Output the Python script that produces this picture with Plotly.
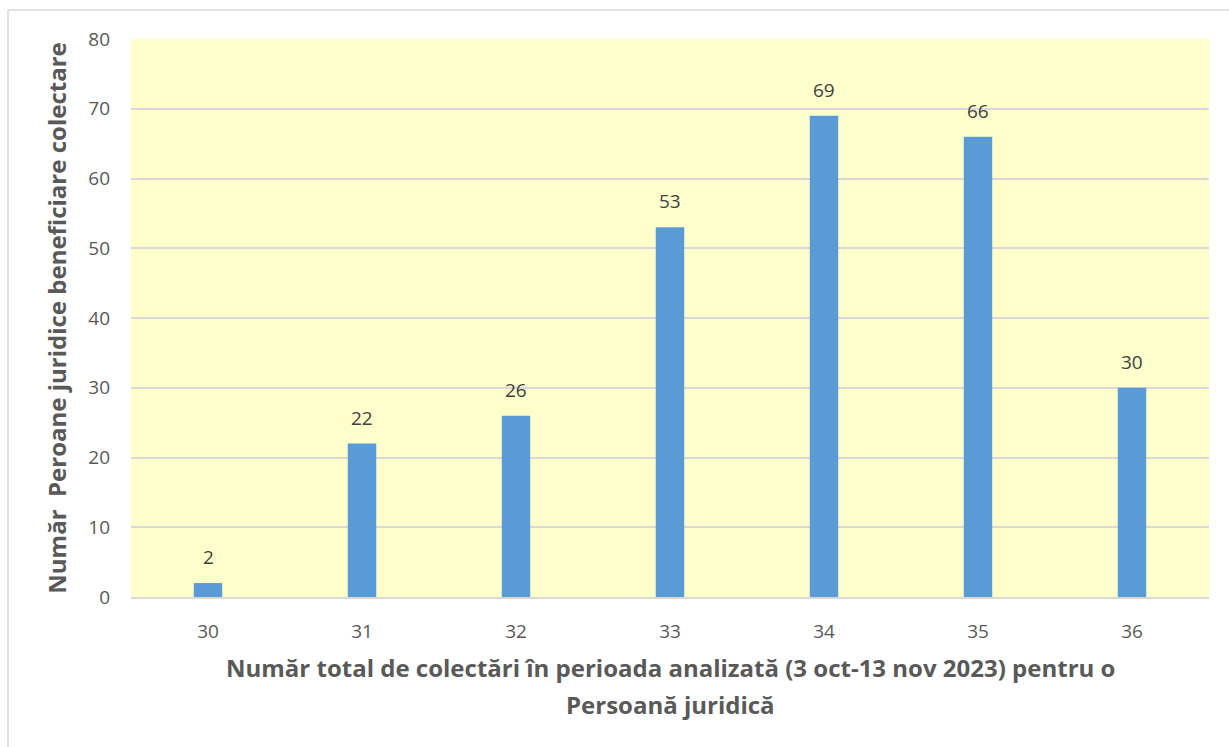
import plotly.graph_objects as go

categories = ["30", "31", "32", "33", "34", "35", "36"]
values = [2, 22, 26, 53, 69, 66, 30]
y_ticks = [0, 10, 20, 30, 40, 50, 60, 70, 80]

x_title_lines = [
    "Număr total de colectări în perioada analizată (3 oct-13 nov 2023) pentru o",
    "Persoană juridică",
]
y_title = "Număr\u00a0\u00a0Peroane juridice beneficiare colectare"

font_family = "'Open Sans', sans-serif"

fig = go.Figure(
    go.Bar(
        x=categories,
        y=values,
        marker=dict(color="#5b9bd5", line=dict(width=0)),
        width=0.185,
    )
)

# value labels above each bar (category axis positions are 0..n-1)
for idx, val in enumerate(values):
    fig.add_annotation(
        x=idx, y=val, text=str(val),
        showarrow=False, yanchor="bottom", yshift=11,
        font=dict(size=19, color="#404040", family=font_family),
    )

# two-line x-axis title with wider line spacing
for line, ypos in zip(x_title_lines, [-0.1272, -0.1935]):
    fig.add_annotation(
        xref="paper", yref="paper", x=0.5, y=ypos,
        text="<b>" + line + "</b>", showarrow=False,
        xanchor="center", yanchor="middle",
        font=dict(size=24, color="#595959", family=font_family),
    )

fig.update_layout(
    width=1229,
    height=747,
    margin=dict(l=131, r=20, t=39, b=150),
    paper_bgcolor="white",
    plot_bgcolor="#ffffcc",
    showlegend=False,
    font=dict(family=font_family, color="#595959"),
    xaxis=dict(
        type="category",
        range=[-0.5, len(categories) - 0.5],
        tickfont=dict(size=19, color="#595959"),
        ticks="",
        showgrid=False,
        showline=True,
        linecolor="#d9d9d9",
        linewidth=2,
        ticklabelstandoff=16,
    ),
    yaxis=dict(
        range=[0, 80],
        tickvals=y_ticks,
        tickfont=dict(size=19, color="#595959"),
        showgrid=True,
        gridcolor="#d9d9d9",
        gridwidth=1.5,
        zeroline=False,
        ticks="",
        ticklabelstandoff=20,
        title=dict(
            text="<b>" + y_title + "</b>",
            font=dict(size=24, color="#595959"),
            standoff=14,
        ),
    ),
    shapes=[
        dict(
            type="line", xref="paper", yref="paper",
            x0=-0.1141, x1=1.1, y0=1.052, y1=1.052,
            line=dict(color="#d9d9d9", width=1.5),
        ),
        dict(
            type="line", xref="paper", yref="paper",
            x0=-0.1141, x1=-0.1141, y0=1.052, y1=-0.4,
            line=dict(color="#d9d9d9", width=1.5),
        ),
    ],
)

fig.write_html("out.html")
